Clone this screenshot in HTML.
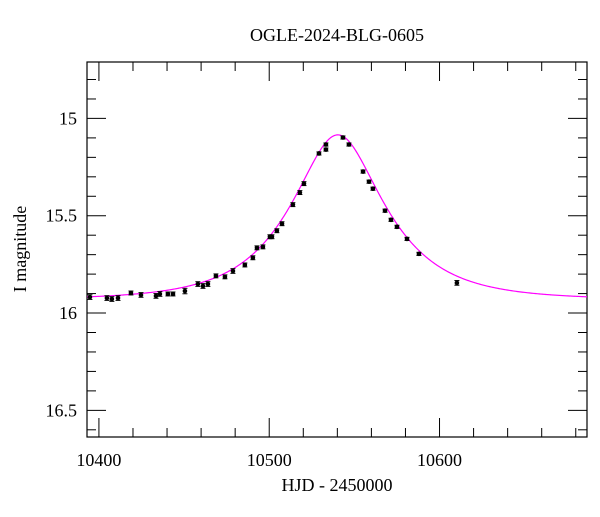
<!DOCTYPE html>
<html><head><meta charset="utf-8"><style>
html,body{margin:0;padding:0;background:#fff;}
svg text{font-family:"Liberation Serif",serif;fill:#000;}
</style></head><body>
<svg id="chart" width="600" height="512" xmlns="http://www.w3.org/2000/svg"></svg>
<script>
const hjd=[10394.7,10404.7,10407.6,10411.2,10418.8,10424.7,10433.5,10435.8,10440.5,10443.5,10450.5,10458.1,10461.1,10464.0,10468.7,10474.0,10478.7,10485.7,10490.4,10492.8,10496.3,10500.4,10501.6,10504.5,10507.5,10513.9,10518.0,10520.4,10529.2,10533.3,10533.3,10543.3,10546.8,10555.1,10558.6,10560.9,10568.0,10571.5,10575.0,10580.9,10587.9,10610.2];
const mag=[15.918,15.923,15.928,15.923,15.897,15.907,15.912,15.902,15.902,15.902,15.887,15.851,15.861,15.851,15.809,15.814,15.784,15.753,15.716,15.665,15.660,15.608,15.608,15.577,15.541,15.443,15.381,15.335,15.180,15.160,15.134,15.098,15.134,15.273,15.325,15.361,15.474,15.521,15.557,15.619,15.696,15.845];
const magErr=[0.012,0.012,0.012,0.012,0.01,0.012,0.012,0.012,0.01,0.01,0.014,0.012,0.012,0.012,0.01,0.01,0.012,0.01,0.01,0.01,0.01,0.01,0.01,0.01,0.01,0.01,0.01,0.01,0.008,0.008,0.008,0.008,0.008,0.008,0.008,0.008,0.008,0.008,0.008,0.008,0.008,0.012];
const xTicks=[10400,10500,10600];
const yTicks=[15,15.5,16,16.5];
const model={t0:10540.3,tE:47,u0:0.5,base:15.932};

const svg=document.getElementById('chart');
const NS='http://www.w3.org/2000/svg';
const L=87,R=587,T=62,B=437;
const xMin=10393,xMax=10686.6,yMin=14.71,yMax=16.637;
const X=v=>L+(v-xMin)/(xMax-xMin)*(R-L);
const Y=v=>T+(v-yMin)/(yMax-yMin)*(B-T);
function el(tag,attrs,parent){const e=document.createElementNS(NS,tag);for(const k in attrs)e.setAttribute(k,attrs[k]);(parent||svg).appendChild(e);return e;}

const frame=el('rect',{x:L,y:T,width:R-L,height:B-T,fill:'none',stroke:'#000','stroke-width':1.2});



const ticks=el('g',{stroke:'#000','stroke-width':1});


for(let v=10400;v<=xMax;v+=20){const x=X(v);const major=Math.abs(v%100)<1e-6;const len=major?19:9;
 el('line',{x1:x,y1:B,x2:x,y2:B-len},ticks);el('line',{x1:x,y1:T,x2:x,y2:T+len},ticks);}
for(let i=0;i<20;i++){const v=14.8+i*0.1;if(v>yMax)break;const y=Y(v);const major=Math.abs((v*2)-Math.round(v*2))<1e-6;const len=major?19:9;
 el('line',{x1:L,y1:y,x2:L+len,y2:y},ticks);el('line',{x1:R,y1:y,x2:R-len,y2:y},ticks);}

xTicks.forEach(v=>{const t=el('text',{x:X(v),y:B+29,'text-anchor':'middle','font-size':18});t.textContent=String(v);
 });
yTicks.forEach(v=>{const t=el('text',{x:L-10,y:Y(v)+6,'text-anchor':'end','font-size':18});t.textContent=String(v);
 });

const title=el('text',{x:337,y:41,'text-anchor':'middle','font-size':18});title.textContent='OGLE-2024-BLG-0605';

const xt=el('text',{x:337,y:491,'text-anchor':'middle','font-size':18});xt.textContent='HJD - 2450000';

const yt=el('text',{x:0,y:0,'text-anchor':'middle','font-size':18,transform:'translate(26,249) rotate(-90)'});yt.textContent='I magnitude';


function modelMag(t){const tau=(t-model.t0)/model.tE;const u=Math.sqrt(tau*tau+model.u0*model.u0);const A=(u*u+2)/(u*Math.sqrt(u*u+4));return model.base-2.5*Math.log10(A);}
let d='';for(let px=L;px<=R;px+=1){const t=xMin+(px-L)/(R-L)*(xMax-xMin);d+=(px===L?'M':'L')+px.toFixed(1)+','+Y(modelMag(t)).toFixed(2);}
const curve=el('path',{d:d,fill:'none',stroke:'#ff00ff','stroke-width':1.2});


const pts=el('g',{});

hjd.forEach((t,i)=>{const x=X(t),y=Y(mag[i]),e=magErr[i];const g=el('g',{},pts);
 
 const y1=Y(mag[i]-e),y2=Y(mag[i]+e);
 el('line',{x1:x,y1:y1,x2:x,y2:y2,stroke:'#000','stroke-width':1},g);
 el('line',{x1:x-2.5,y1:y1,x2:x+2.5,y2:y1,stroke:'#000','stroke-width':1},g);
 el('line',{x1:x-2.5,y1:y2,x2:x+2.5,y2:y2,stroke:'#000','stroke-width':1},g);
 el('circle',{cx:x,cy:y,r:2.3,fill:'#000'},g);});
</script>
</body></html>
